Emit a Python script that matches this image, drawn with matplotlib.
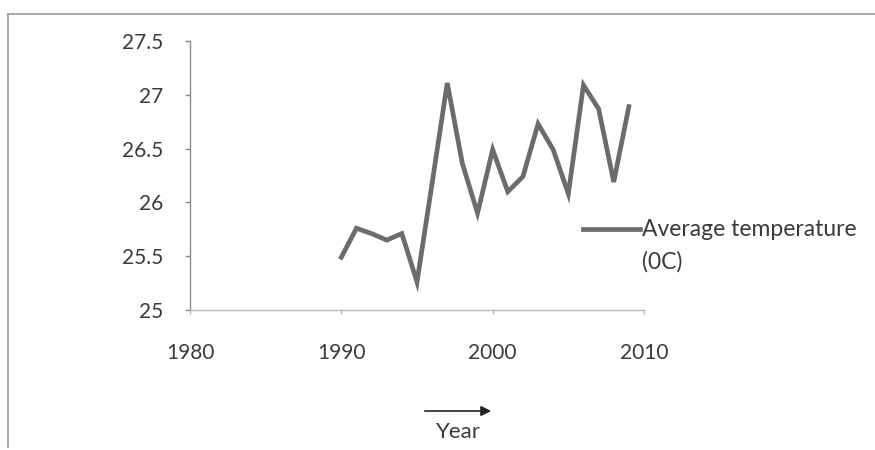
import matplotlib
matplotlib.use("Agg")
import matplotlib.pyplot as plt
from matplotlib.lines import Line2D
from matplotlib.patches import FancyArrowPatch

plt.rcParams['font.family'] = ['Lato', 'DejaVu Sans']

years = [1990, 1991, 1992, 1993, 1994, 1995, 1996, 1997, 1998, 1999,
         2000, 2001, 2002, 2003, 2004, 2005, 2006, 2007, 2008, 2009]
avg_temp = [25.49, 25.76, 25.71, 25.65, 25.71, 25.26, 26.18, 27.11, 26.36, 25.90,
            26.49, 26.10, 26.24, 26.73, 26.49, 26.08, 27.09, 26.87, 26.19, 26.89]
x_ticks = [1980, 1990, 2000, 2010]
y_ticks = [25, 25.5, 26, 26.5, 27, 27.5]
y_tick_labels = ['25', '25.5', '26', '26.5', '27', '27.5']
series_name = 'Average temperature\n(0C)'
x_caption = 'Year'

W, H = 875, 450
fig = plt.figure(figsize=(W / 100, H / 100), dpi=100)
fig.patch.set_facecolor('white')

def fx(px):
    return px / W

def fy(py):
    return 1 - py / H

# chart frame: top and left edges
fig.add_artist(Line2D([fx(8), fx(875)], [fy(14), fy(14)], color='#a0a0a0', linewidth=1.3))
fig.add_artist(Line2D([fx(8), fx(8)], [fy(14), fy(447)], color='#a0a0a0', linewidth=1.3))

ax = fig.add_axes([fx(190), fy(310), fx(644) - fx(190), fy(41) - fy(310)])
line, = ax.plot(years, avg_temp, color='#6c6c6c', linewidth=3.4,
                solid_joinstyle='miter', label=series_name)

ax.set_xlim(1980, 2010)
ax.set_ylim(25, 27.5)
ax.set_xticks(x_ticks)
ax.set_yticks(y_ticks)
ax.set_yticklabels(y_tick_labels)

for side in ['top', 'right']:
    ax.spines[side].set_visible(False)
ax.spines['left'].set_color('#8a8a8a')
ax.spines['left'].set_linewidth(1.0)
ax.spines['bottom'].set_color('#b8b8b8')
ax.spines['bottom'].set_linewidth(1.0)

ax.tick_params(axis='y', direction='out', length=3.5, width=1, color='#8a8a8a',
               labelsize=15, labelcolor='#3a3a3a', pad=16)
ax.tick_params(axis='x', direction='out', length=3, width=1, color='#b8b8b8',
               labelsize=15, labelcolor='#3a3a3a', pad=21)

# series key: swatch aligned with first text line
fig.add_artist(Line2D([fx(583), fx(640)], [fy(229), fy(229)],
                      color=line.get_color(), linewidth=3.4))
fig.text(fx(642), fy(230), 'Average temperature', ha='left', va='center',
         fontsize=16.5, color='#3a3a3a')
fig.text(fx(642), fy(262), '(0C)', ha='left', va='center',
         fontsize=16.5, color='#3a3a3a')

# axis caption with arrow
fig.add_artist(FancyArrowPatch((fx(422), fy(411)), (fx(494), fy(411)),
                               transform=fig.transFigure, arrowstyle='-|>',
                               mutation_scale=15, color='#222222', linewidth=1.2))
fig.text(fx(458), fy(432), x_caption, ha='center', va='center',
         fontsize=16, color='#3a3a3a')

fig.savefig('out.png', dpi=100, facecolor='white')
